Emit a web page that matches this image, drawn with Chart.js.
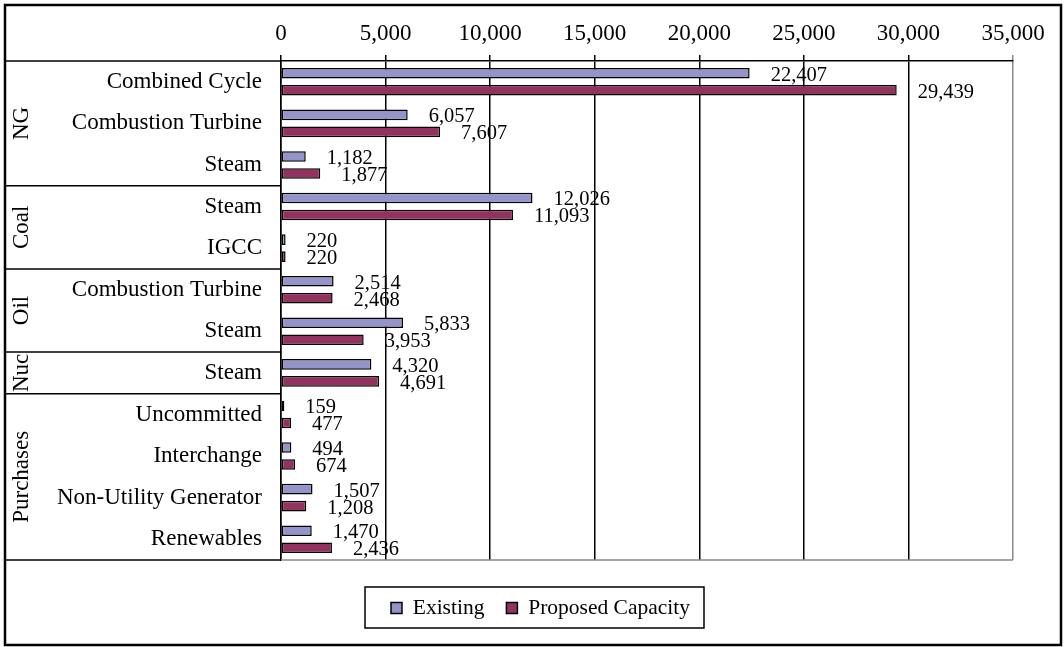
<!DOCTYPE html>
<html>
<head>
<meta charset="utf-8">
<title>Capacity by Type</title>
<script src="https://cdn.jsdelivr.net/npm/chart.js@4.4.0/dist/chart.umd.min.js"></script>
<style>
  html, body { margin: 0; padding: 0; background: #fff; }
  #wrap { width: 1064px; height: 647px; position: relative; }
</style>
</head>
<body>
<div id="wrap"><canvas id="capChart"></canvas></div>
<script>
// categories, grouped by fuel
const categories = [
  "Combined Cycle", "Combustion Turbine", "Steam",
  "Steam", "IGCC",
  "Combustion Turbine", "Steam",
  "Steam",
  "Uncommitted", "Interchange", "Non-Utility Generator", "Renewables",
];
const groups = ["NG", "Coal", "Oil", "Nuc", "Purchases"];
const groupSizes = [3, 2, 2, 1, 4];

const existing = [22407, 6057, 1182, 12026, 220, 2514, 5833, 4320, 159, 494, 1507, 1470];
const proposed = [29439, 7607, 1877, 11093, 220, 2468, 3953, 4691, 477, 674, 1208, 2436];

const xTicks = [0, 5000, 10000, 15000, 20000, 25000, 30000, 35000];

const SERIF = "'Liberation Serif', 'Times New Roman', serif";

/**
 *  ! value labels next to each bar
 * **/
const valueLabels = {
  id: "valueLabels",
  afterDatasetsDraw(chart) {
    const ctx = chart.ctx;
    ctx.save();
    ctx.font = "20.5px " + SERIF;
    ctx.fillStyle = "#000";
    ctx.textAlign = "left";
    ctx.textBaseline = "middle";
    chart.data.datasets.forEach((ds, i) => {
      chart.getDatasetMeta(i).data.forEach((bar, j) => {
        ctx.fillText(ds.data[j].toLocaleString("en-US"), bar.x + 21, bar.y + 2);
      });
    });
    ctx.restore();
  },
};

/**
 *  ! fuel group table, plot frame, legend box, outer border
 * **/
const frames = {
  id: "frames",
  afterLayout(chart) {
    // nudge the legend to the right, under the plot
    const lg = chart.legend;
    lg.left += 31.5;
    lg.right += 31.5;
  },
  beforeDatasetsDraw(chart) {
    const { ctx, chartArea } = chart;
    ctx.save();
    // plot area bottom edge
    ctx.strokeStyle = "#888";
    ctx.lineWidth = 1.5;
    ctx.beginPath();
    ctx.moveTo(chartArea.left, chartArea.bottom);
    ctx.lineTo(chartArea.right, chartArea.bottom);
    ctx.stroke();
    ctx.restore();
  },
  afterDraw(chart) {
    const { ctx, chartArea } = chart;
    const y = chart.scales.y;
    const tableLeft = 5;
    ctx.save();
    ctx.strokeStyle = "#000";
    ctx.lineWidth = 1.5;

    // group boundaries
    const bounds = [chartArea.top];
    let idx = 0;
    groupSizes.forEach((n) => {
      idx += n;
      if (idx < categories.length) {
        bounds.push((y.getPixelForValue(idx - 1) + y.getPixelForValue(idx)) / 2);
      } else {
        bounds.push(chartArea.bottom);
      }
    });
    bounds.forEach((b) => {
      ctx.beginPath();
      ctx.moveTo(tableLeft, b);
      ctx.lineTo(chartArea.left, b);
      ctx.stroke();
    });

    // rotated group names
    ctx.fillStyle = "#000";
    ctx.font = "23px " + SERIF;
    ctx.textAlign = "center";
    ctx.textBaseline = "middle";
    groups.forEach((name, g) => {
      const cy = (bounds[g] + bounds[g + 1]) / 2;
      ctx.save();
      ctx.translate(22, cy);
      ctx.rotate(-Math.PI / 2);
      ctx.fillText(name, 0, 0);
      ctx.restore();
    });

    // box around the legend
    const hb = chart.legend.legendHitBoxes;
    if (hb && hb.length) {
      const first = hb[0];
      const last = hb[hb.length - 1];
      const mid = first.top + first.height / 2;
      const l = first.left - 26;
      const r = last.left + last.width + 14;
      ctx.lineWidth = 1.5;
      ctx.strokeRect(l, mid - 21, r - l, 41);
    }

    // outer border
    ctx.lineWidth = 2.5;
    ctx.strokeRect(5, 5, 1056, 640);
    ctx.restore();
  },
};

const ctx = document.getElementById("capChart");

new Chart(ctx, {
  type: "bar",
  data: {
    labels: categories,
    datasets: [
      {
        label: "Existing",
        data: existing,
        backgroundColor: "#9494CA",
        borderColor: "#000",
        borderWidth: 1.5,
        borderSkipped: false,
      },
      {
        label: "Proposed Capacity",
        data: proposed,
        backgroundColor: "#94325F",
        borderColor: "#000",
        borderWidth: 1.5,
        borderSkipped: false,
      },
    ],
  },
  options: {
    indexAxis: "y",
    responsive: true,
    maintainAspectRatio: false,
    animation: false,
    categoryPercentage: 0.818,
    barPercentage: 0.62,
    layout: {
      padding: { left: 5, top: 5, right: 51, bottom: 18.25 },
    },
    scales: {
      x: {
        position: "top",
        min: xTicks[0],
        max: xTicks[xTicks.length - 1],
        afterBuildTicks: (scale) => {
          scale.ticks = xTicks.map((v) => ({ value: v }));
        },
        afterFit: (scale) => {
          scale.height = 56;
        },
        ticks: {
          color: "#000",
          padding: 7,
          font: { family: SERIF, size: 23 },
          callback: (value) => value.toLocaleString("en-US"),
        },
        grid: {
          color: (c) => (c.index === xTicks.length - 1 ? "#888" : "#000"),
          lineWidth: 1.5,
          tickLength: 6,
        },
        border: { color: "#000", width: 1.5 },
      },
      y: {
        afterFit: (scale) => {
          scale.width = 281 - 5;
        },
        ticks: {
          color: "#000",
          padding: 19,
          autoSkip: false,
          font: { family: SERIF, size: 23 },
        },
        grid: { display: false, drawTicks: false },
        border: { color: "#000", width: 1.5 },
      },
    },
    plugins: {
      legend: {
        position: "bottom",
        title: {
          display: true,
          text: "",
          font: { size: 12, lineHeight: 1 },
          padding: { top: 0, bottom: 3.25 },
        },
        labels: {
          boxWidth: 11,
          boxHeight: 11,
          padding: 22,
          color: "#000",
          font: { family: SERIF, size: 21.5 },
        },
      },
      tooltip: { enabled: false },
    },
  },
  plugins: [valueLabels, frames],
});
</script>
</body>
</html>
